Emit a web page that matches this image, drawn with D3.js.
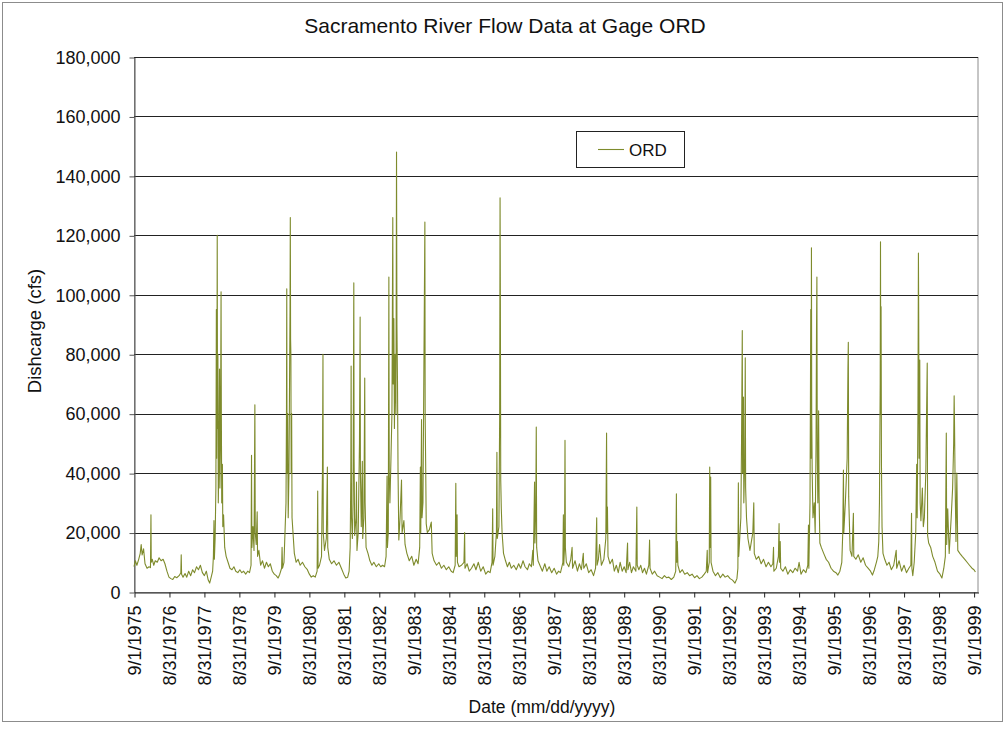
<!DOCTYPE html>
<html>
<head>
<meta charset="utf-8">
<script src="https://cdn.jsdelivr.net/npm/d3@7"></script>
<style>
  html, body { margin: 0; padding: 0; background: #fff; }
  svg { display: block; font-family: "Liberation Sans", Arial, sans-serif; }
</style>
</head>
<body>
<svg id="chart" width="1007" height="735"></svg>
<script>
const chartTitle = "Sacramento River Flow Data at Gage ORD";
const yAxisTitle = "Dishcarge (cfs)";
const xAxisTitle = "Date (mm/dd/yyyy)";
const seriesName = "ORD";
const yTicks = [0, 20000, 40000, 60000, 80000, 100000, 120000, 140000, 160000, 180000];
const xTickLabels = ["9/1/1975","8/31/1976","8/31/1977","8/31/1978","9/1/1979","8/31/1980","8/31/1981",
  "8/31/1982","9/1/1983","8/31/1984","8/31/1985","8/31/1986","9/1/1987","8/31/1988","8/31/1989",
  "8/31/1990","9/1/1991","8/31/1992","8/31/1993","8/31/1994","9/1/1995","8/31/1996","8/31/1997",
  "8/31/1998","9/1/1999"];
const xDomain = ["1975-09-01", "1999-10-17"];

// [date, flow cfs]
const flowSeries = [
["1975-09-01",8500],["1975-09-15",10500],["1975-10-01",9000],["1975-10-20",11000],["1975-11-05",13000],
["1975-11-15",16000],["1975-11-25",12500],["1975-12-10",14500],["1975-12-25",9500],["1976-01-15",8000],
["1976-02-05",8500],["1976-02-20",8200],["1976-02-25",26000],["1976-02-28",10000],["1976-03-10",11000],
["1976-03-25",9000],["1976-04-10",10500],["1976-05-01",10000],["1976-05-20",11500],["1976-06-10",10500],
["1976-07-01",11000],["1976-07-20",9500],["1976-08-10",7000],["1976-08-31",5000],["1976-09-20",4500],
["1976-10-10",4200],["1976-10-30",5200],["1976-11-20",4800],["1976-12-15",5500],["1977-01-02",6500],
["1977-01-06",12500],["1977-01-10",6000],["1977-01-25",5000],["1977-02-15",6200],["1977-03-05",5000],
["1977-03-25",7000],["1977-04-15",5500],["1977-05-05",7500],["1977-05-25",6500],["1977-06-15",8500],
["1977-07-05",7500],["1977-07-25",9000],["1977-08-15",6500],["1977-09-05",5500],["1977-09-25",7000],
["1977-10-15",4000],["1977-10-30",3000],["1977-11-15",5000],["1977-11-30",7000],["1977-12-08",12000],
["1977-12-14",24000],["1977-12-18",11000],["1977-12-26",18000],["1978-01-03",35000],["1978-01-08",95000],
["1978-01-11",45000],["1978-01-14",70000],["1978-01-17",120000],["1978-01-20",55000],["1978-01-24",80000],
["1978-01-28",30000],["1978-02-04",45000],["1978-02-10",75000],["1978-02-14",35000],["1978-02-20",50000],
["1978-02-26",101000],["1978-03-01",60000],["1978-03-05",30000],["1978-03-12",43000],["1978-03-16",22000],
["1978-03-24",26000],["1978-04-05",15000],["1978-04-20",12000],["1978-05-10",10000],["1978-05-30",8000],
["1978-06-20",7500],["1978-07-10",8500],["1978-07-30",7000],["1978-08-20",6500],["1978-09-10",7500],
["1978-09-30",6500],["1978-10-20",7000],["1978-11-10",6000],["1978-12-01",7000],["1978-12-20",6500],
["1979-01-05",9000],["1979-01-10",46000],["1979-01-14",15000],["1979-01-25",22000],["1979-02-05",14000],
["1979-02-14",63000],["1979-02-18",20000],["1979-02-28",16000],["1979-03-10",27000],["1979-03-14",12000],
["1979-03-28",14000],["1979-04-15",9000],["1979-05-05",10500],["1979-05-25",8000],["1979-06-15",10000],
["1979-07-05",8500],["1979-07-25",9500],["1979-08-15",7000],["1979-09-05",6000],["1979-09-25",5500],
["1979-10-15",4700],["1979-11-01",6000],["1979-11-20",8000],["1979-11-25",15000],["1979-11-30",8000],
["1979-12-15",10000],["1980-01-05",30000],["1980-01-10",60000],["1980-01-13",102000],["1980-01-16",40000],
["1980-01-22",60000],["1980-01-28",25000],["1980-02-05",40000],["1980-02-12",75000],["1980-02-16",95000],
["1980-02-19",126000],["1980-02-22",85000],["1980-02-25",80000],["1980-02-28",40000],["1980-03-04",60000],
["1980-03-08",25000],["1980-03-18",20000],["1980-04-01",13000],["1980-04-20",10000],["1980-05-10",11000],
["1980-06-01",9000],["1980-06-25",10000],["1980-07-20",8500],["1980-08-15",7500],["1980-09-05",6000],
["1980-09-25",5000],["1980-10-15",5500],["1980-11-05",5000],["1980-11-25",7000],["1980-12-01",34000],
["1980-12-05",8000],["1980-12-20",9000],["1981-01-10",12000],["1981-01-20",42000],["1981-01-25",80000],
["1981-01-28",20000],["1981-02-10",14000],["1981-03-01",18000],["1981-03-12",42000],["1981-03-16",15000],
["1981-04-01",11000],["1981-04-25",9500],["1981-05-20",10500],["1981-06-15",9000],["1981-07-10",10000],
["1981-08-05",8000],["1981-08-30",6000],["1981-09-20",4700],["1981-10-10",5000],["1981-10-25",7000],
["1981-11-05",15000],["1981-11-12",40000],["1981-11-15",76000],["1981-11-19",25000],["1981-11-28",18000],
["1981-12-05",30000],["1981-12-13",104000],["1981-12-16",45000],["1981-12-22",19000],["1982-01-05",25000],
["1982-01-10",37000],["1982-01-15",14000],["1982-01-28",20000],["1982-02-10",50000],["1982-02-17",92500],
["1982-02-20",40000],["1982-03-01",22000],["1982-03-12",44000],["1982-03-16",18000],["1982-03-28",25000],
["1982-04-06",72000],["1982-04-10",30000],["1982-04-20",15000],["1982-05-10",13000],["1982-05-30",10500],
["1982-06-20",9000],["1982-07-10",10000],["1982-08-05",8500],["1982-08-30",9500],["1982-09-20",8500],
["1982-10-10",9000],["1982-10-30",8500],["1982-11-15",12000],["1982-11-25",39000],["1982-11-29",15000],
["1982-12-08",20000],["1982-12-14",106000],["1982-12-18",40000],["1982-12-25",30000],["1983-01-05",45000],
["1983-01-15",60000],["1983-01-24",126000],["1983-01-28",70000],["1983-02-04",92000],["1983-02-10",55000],
["1983-02-18",80000],["1983-02-26",60000],["1983-03-04",148000],["1983-03-08",90000],["1983-03-14",71000],
["1983-03-20",40000],["1983-03-28",17500],["1983-04-10",25000],["1983-04-25",37700],["1983-05-01",20000],
["1983-05-20",24000],["1983-06-01",16000],["1983-06-20",13000],["1983-07-15",10500],["1983-08-10",12000],
["1983-09-01",9000],["1983-09-25",11000],["1983-10-15",9500],["1983-11-01",15000],["1983-11-08",42000],
["1983-11-12",20000],["1983-11-20",58000],["1983-11-25",25000],["1983-12-05",30000],["1983-12-20",100000],
["1983-12-25",124500],["1983-12-28",59000],["1984-01-02",44000],["1984-01-08",23000],["1984-01-20",20000],
["1984-02-10",21000],["1984-03-01",23500],["1984-03-10",13000],["1984-03-30",10500],["1984-04-25",9000],
["1984-05-20",10000],["1984-06-15",8000],["1984-07-10",9000],["1984-08-05",7500],["1984-08-30",8500],
["1984-09-25",7000],["1984-10-15",6500],["1984-11-05",9000],["1984-11-12",36600],["1984-11-16",12000],
["1984-11-25",26000],["1984-11-29",10000],["1984-12-15",8500],["1985-01-10",9000],["1985-02-05",10000],
["1985-02-12",20000],["1985-02-16",8000],["1985-03-10",9500],["1985-04-01",7000],["1985-04-25",8000],
["1985-05-20",9500],["1985-06-10",7500],["1985-07-05",10000],["1985-07-30",7000],["1985-08-25",8500],
["1985-09-20",6000],["1985-10-15",7000],["1985-11-05",6500],["1985-11-25",10000],["1985-12-02",28000],
["1985-12-06",9000],["1985-12-25",12000],["1986-01-10",20000],["1986-01-15",47000],["1986-01-19",18000],
["1986-02-05",22000],["1986-02-13",60000],["1986-02-17",132600],["1986-02-20",100000],["1986-02-24",37700],
["1986-03-02",28000],["1986-03-10",20000],["1986-03-25",13000],["1986-04-15",10500],["1986-05-05",8500],
["1986-05-25",10000],["1986-06-15",8000],["1986-07-10",9000],["1986-08-05",7500],["1986-08-30",9500],
["1986-09-20",8000],["1986-10-15",10500],["1986-11-05",8500],["1986-11-30",7500],["1986-12-20",9500],
["1987-01-10",8500],["1987-01-25",14000],["1987-01-30",9000],["1987-02-12",37000],["1987-02-16",16500],
["1987-02-25",28700],["1987-03-02",55500],["1987-03-06",15000],["1987-03-20",10500],["1987-04-15",8500],
["1987-05-05",7000],["1987-05-30",9500],["1987-06-20",7000],["1987-07-15",8500],["1987-08-10",6500],
["1987-09-05",8000],["1987-09-30",6000],["1987-10-20",7000],["1987-11-10",6500],["1987-12-05",10000],
["1987-12-10",26000],["1987-12-14",9000],["1987-12-22",15000],["1987-12-27",51000],["1987-12-31",15000],
["1988-01-10",10000],["1988-02-05",8500],["1988-02-25",11000],["1988-03-10",15000],["1988-03-15",8000],
["1988-04-10",10500],["1988-05-05",7000],["1988-05-25",9500],["1988-06-15",7500],["1988-07-05",13000],
["1988-07-10",8000],["1988-08-05",9500],["1988-08-30",6500],["1988-09-25",7500],["1988-10-20",5500],
["1988-11-10",8000],["1988-11-22",25000],["1988-11-26",9000],["1988-12-10",11000],["1988-12-22",16000],
["1989-01-10",9000],["1989-02-05",11000],["1989-02-25",18000],["1989-03-05",53500],["1989-03-09",20000],
["1989-03-14",28600],["1989-03-20",12000],["1989-04-10",9500],["1989-05-05",11000],["1989-05-25",7000],
["1989-06-15",9000],["1989-07-05",6500],["1989-07-25",10000],["1989-08-15",7000],["1989-09-05",8500],
["1989-09-25",6500],["1989-10-10",16500],["1989-10-14",7500],["1989-11-01",10000],["1989-11-20",6500],
["1989-12-10",8500],["1990-01-05",7000],["1990-01-15",28600],["1990-01-19",9000],["1990-02-05",7500],
["1990-02-25",9000],["1990-03-15",6500],["1990-04-05",8000],["1990-04-25",6000],["1990-05-20",9000],
["1990-05-28",17500],["1990-06-02",8000],["1990-06-25",6000],["1990-07-20",7000],["1990-08-15",5500],
["1990-09-10",5000],["1990-10-05",4500],["1990-10-30",5500],["1990-11-20",4800],["1990-12-15",5000],
["1991-01-10",4200],["1991-02-05",5000],["1991-02-25",7000],["1991-03-04",33000],["1991-03-08",10000],
["1991-03-14",17000],["1991-03-20",9000],["1991-04-10",6500],["1991-05-05",7500],["1991-05-30",6000],
["1991-06-25",6500],["1991-07-20",5500],["1991-08-15",6000],["1991-09-10",4800],["1991-10-05",5500],
["1991-10-30",4500],["1991-11-25",5000],["1991-12-20",6000],["1992-01-10",7000],["1992-01-20",14000],
["1992-01-24",6500],["1992-02-10",10000],["1992-02-15",42000],["1992-02-19",15000],["1992-02-25",38700],
["1992-02-29",10000],["1992-03-20",7000],["1992-04-15",5500],["1992-05-10",6500],["1992-06-05",4800],
["1992-07-01",6000],["1992-07-25",5000],["1992-08-20",5500],["1992-09-15",4500],["1992-10-10",4000],
["1992-11-05",3000],["1992-11-25",4500],["1992-12-05",8000],["1992-12-10",36700],["1992-12-14",12000],
["1993-01-05",25000],["1993-01-12",50000],["1993-01-20",88000],["1993-01-23",40000],["1993-02-01",65600],
["1993-02-05",30000],["1993-02-15",45000],["1993-02-20",78800],["1993-02-24",35000],["1993-03-05",25000],
["1993-03-20",18000],["1993-04-10",14000],["1993-05-10",20000],["1993-05-20",30000],["1993-05-25",13000],
["1993-06-15",11000],["1993-07-10",12000],["1993-08-05",9500],["1993-08-30",11000],["1993-09-25",8500],
["1993-10-20",10000],["1993-11-15",8500],["1993-12-05",9500],["1993-12-12",15000],["1993-12-16",7000],
["1994-01-10",8000],["1994-02-01",12000],["1994-02-08",23000],["1994-02-12",10000],["1994-02-20",17000],
["1994-02-25",8000],["1994-03-20",7000],["1994-04-15",8500],["1994-05-10",6000],["1994-06-05",7500],
["1994-07-01",6500],["1994-07-25",8000],["1994-08-20",7000],["1994-09-05",10000],["1994-09-25",6000],
["1994-10-20",7500],["1994-11-15",6500],["1994-12-05",9000],["1994-12-12",22500],["1994-12-16",8000],
["1994-12-28",30000],["1995-01-05",95000],["1995-01-09",45000],["1995-01-12",115800],["1995-01-15",60000],
["1995-01-20",40000],["1995-01-28",25000],["1995-02-10",30000],["1995-02-20",20000],["1995-03-01",50000],
["1995-03-06",88000],["1995-03-10",106000],["1995-03-14",45500],["1995-03-20",30000],["1995-03-28",61000],
["1995-04-02",32000],["1995-04-10",16500],["1995-04-25",15000],["1995-05-20",13000],["1995-06-15",11000],
["1995-07-10",10000],["1995-08-05",8000],["1995-08-30",7000],["1995-09-25",6500],["1995-10-15",5700],
["1995-11-05",7000],["1995-11-25",10000],["1995-12-05",20000],["1995-12-12",41000],["1995-12-16",20000],
["1996-01-01",30000],["1996-01-20",45000],["1996-01-28",75000],["1996-02-01",84000],["1996-02-05",32000],
["1996-02-20",14000],["1996-03-10",12000],["1996-03-25",26500],["1996-03-29",12000],["1996-04-20",11000],
["1996-05-15",12500],["1996-06-10",10000],["1996-07-05",11500],["1996-07-30",9000],["1996-08-25",8000],
["1996-09-20",7000],["1996-10-10",5700],["1996-10-30",7500],["1996-11-20",10000],["1996-12-05",12000],
["1996-12-15",17000],["1996-12-22",30000],["1996-12-30",70000],["1997-01-02",117800],["1997-01-05",60000],
["1997-01-08",96000],["1997-01-12",43000],["1997-01-18",22000],["1997-01-28",13000],["1997-02-15",11000],
["1997-03-10",9000],["1997-04-01",10000],["1997-04-25",7500],["1997-05-20",9000],["1997-06-15",14000],
["1997-06-20",8000],["1997-07-15",10500],["1997-08-10",7000],["1997-09-05",9000],["1997-09-30",6500],
["1997-10-25",8000],["1997-11-15",9000],["1997-11-22",26500],["1997-11-26",8000],["1997-12-05",5500],
["1997-12-20",10000],["1998-01-05",20000],["1998-01-15",43000],["1998-01-20",25000],["1998-01-28",60000],
["1998-02-02",114000],["1998-02-05",92000],["1998-02-09",45000],["1998-02-16",78000],["1998-02-20",30000],
["1998-02-28",24000],["1998-03-15",35000],["1998-03-25",22000],["1998-04-05",25000],["1998-04-20",40000],
["1998-05-05",77000],["1998-05-09",19000],["1998-05-20",16500],["1998-06-10",15000],["1998-07-01",12000],
["1998-07-25",10000],["1998-08-20",7000],["1998-09-15",6000],["1998-10-05",4700],["1998-10-25",8000],
["1998-11-10",12000],["1998-11-20",53500],["1998-11-24",16000],["1998-12-05",28000],["1998-12-20",13000],
["1999-01-10",25000],["1999-01-25",35000],["1999-02-05",50000],["1999-02-10",66000],["1999-02-14",56000],
["1999-02-20",37000],["1999-03-01",17000],["1999-03-10",40000],["1999-03-20",14000],["1999-04-10",13000],
["1999-05-05",12000],["1999-06-01",11000],["1999-06-25",10000],["1999-07-20",9000],["1999-08-15",8000],
["1999-09-05",7500],["1999-09-20",6700]
];

const svg = d3.select("#chart");
const parseISO = d3.utcParse("%Y-%m-%d");
const parseMDY = d3.utcParse("%m/%d/%Y");
const plot = { left: 134, right: 978, top: 57, bottom: 592 };
const FONT = "Liberation Sans, Arial, sans-serif";

const x = d3.scaleUtc().domain(xDomain.map(parseISO)).range([plot.left, plot.right]);
const y = d3.scaleLinear().domain([0, 180000]).range([plot.bottom, plot.top]);

// chart area border
svg.append("rect").attr("x", 2.5).attr("y", 2.5).attr("width", 1000).attr("height", 719)
  .attr("fill", "#fff").attr("stroke", "#8c8c8c").attr("stroke-width", 1);

// plot area border
svg.append("rect").attr("x", plot.left + 0.5).attr("y", plot.top + 0.5)
  .attr("width", plot.right - plot.left - 0.5).attr("height", plot.bottom - plot.top)
  .attr("fill", "none").attr("stroke", "#8c8c8c");

// gridlines
svg.append("g").selectAll("line").data(yTicks.filter(d => d > 0)).join("line")
  .attr("x1", plot.left).attr("x2", plot.right)
  .attr("y1", d => Math.round(y(d)) + 0.5).attr("y2", d => Math.round(y(d)) + 0.5)
  .attr("stroke", "#222").attr("stroke-width", 1);

// y axis
const yAxis = d3.axisLeft(y).tickValues(yTicks).tickSize(5).tickSizeOuter(0)
  .tickFormat(d3.format(","));
const gy = svg.append("g").attr("transform", `translate(${plot.left + 0.5},0.5)`).call(yAxis);
gy.select(".domain").attr("stroke", "#555");
gy.selectAll(".tick line").attr("stroke", "#555");
gy.selectAll(".tick text").attr("font-size", 18).attr("fill", "#111").attr("x", -14)
  .attr("font-family", FONT);

// x axis
const xTickDates = xTickLabels.map(parseMDY);
const xAxis = d3.axisBottom(x).tickValues(xTickDates).tickSize(5).tickSizeOuter(0)
  .tickFormat((d, i) => xTickLabels[i]);
const gx = svg.append("g").attr("transform", `translate(0.5,${plot.bottom + 0.5})`).call(xAxis);
gx.select(".domain").attr("stroke", "#222");
gx.selectAll(".tick line").attr("stroke", "#222");
gx.selectAll(".tick text")
  .attr("font-size", 18).attr("fill", "#111")
  .attr("font-family", FONT)
  .attr("transform", "rotate(-90)")
  .attr("text-anchor", "end").attr("x", -13).attr("y", 0).attr("dy", "0.35em");

// series line
const line = d3.line()
  .x(d => x(parseISO(d[0])))
  .y(d => y(d[1]));
svg.append("path").datum(flowSeries)
  .attr("fill", "none").attr("stroke", "#7e8b2c").attr("stroke-width", 1.1)
  .attr("stroke-linejoin", "round").attr("d", line);

// titles
svg.append("text").attr("x", 505).attr("y", 33).attr("text-anchor", "middle")
  .attr("font-size", 21).attr("fill", "#111").text(chartTitle);
svg.append("text").attr("transform", "translate(41,331) rotate(-90)").attr("text-anchor", "middle")
  .attr("font-size", 18.5).attr("fill", "#111").text(yAxisTitle);
svg.append("text").attr("x", 542).attr("y", 713).attr("text-anchor", "middle")
  .attr("font-size", 17.5).attr("fill", "#111").text(xAxisTitle);

// legend
const lg = svg.append("g");
lg.append("rect").attr("x", 576.5).attr("y", 131.5).attr("width", 108).attr("height", 36)
  .attr("fill", "#fff").attr("stroke", "#222");
lg.append("line").attr("x1", 598).attr("x2", 624).attr("y1", 149.5).attr("y2", 149.5)
  .attr("stroke", "#7e8b2c").attr("stroke-width", 1.1);
lg.append("text").attr("x", 629).attr("y", 156).attr("font-size", 17).attr("fill", "#111").text(seriesName);
</script>
</body>
</html>
